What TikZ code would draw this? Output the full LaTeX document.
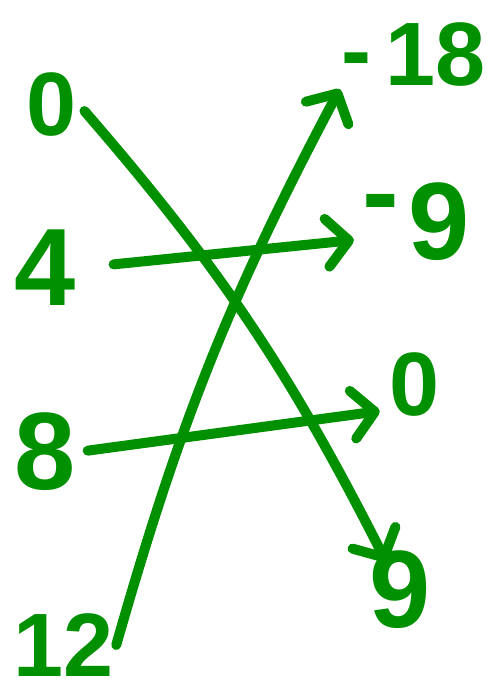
\documentclass[tikz,border=0pt]{standalone}
\usepackage{fontspec}
\setmainfont{Liberation Sans}
\usepackage{xcolor}
\usetikzlibrary{arrows.meta}
\definecolor{pen}{RGB}{0,144,0}

\begin{document}
\begin{tikzpicture}[x=1pt, y=-1pt,
    num/.style={text=pen, font=\fontsize{90}{90}\selectfont\bfseries, inner sep=2pt},
    bignum/.style={num, font=\fontsize{110}{110}\selectfont\bfseries},
    penline/.style={draw=pen, line width=10pt, line cap=round, line join=round,
        -{Straight Barb[length=22pt, width=48pt, round]}}]
    \useasboundingbox (0,0) rectangle (493,695);

    % left column
    \node[num] (l0) at (52,105) {0};
    \node[bignum] (l4) at (45,268) {4};
    \node[bignum] (l8) at (45,452) {8};
    \node[num] (l12) at (64,645) {12};

    % right column
    \node[num] (rm18) at (414,55) {\raisebox{0.05em}{-}\hspace{14pt}18};
    \node[bignum] (rm9) at (416,222) {\raisebox{0.28em}{-}\hspace{10pt}9};
    \node[num] (r0) at (415,385) {0};
    \node[bignum] (r9) at (400,590) {9};

    % arrows
    \draw[penline, shorten <=8pt] (l0.east) to[bend left=7] ([shift={(19,13)}]r9.north west);
    \draw[penline, shorten <=36pt] (l4.east) -- ([shift={(-6,18)}]rm9.west);
    \draw[penline, shorten <=10pt] (l8.east) -- ([shift={(-8,-8)}]r0.south west);
    \draw[penline] (l12.east) to[bend left=6] (rm18.south west);
\end{tikzpicture}
\end{document}
